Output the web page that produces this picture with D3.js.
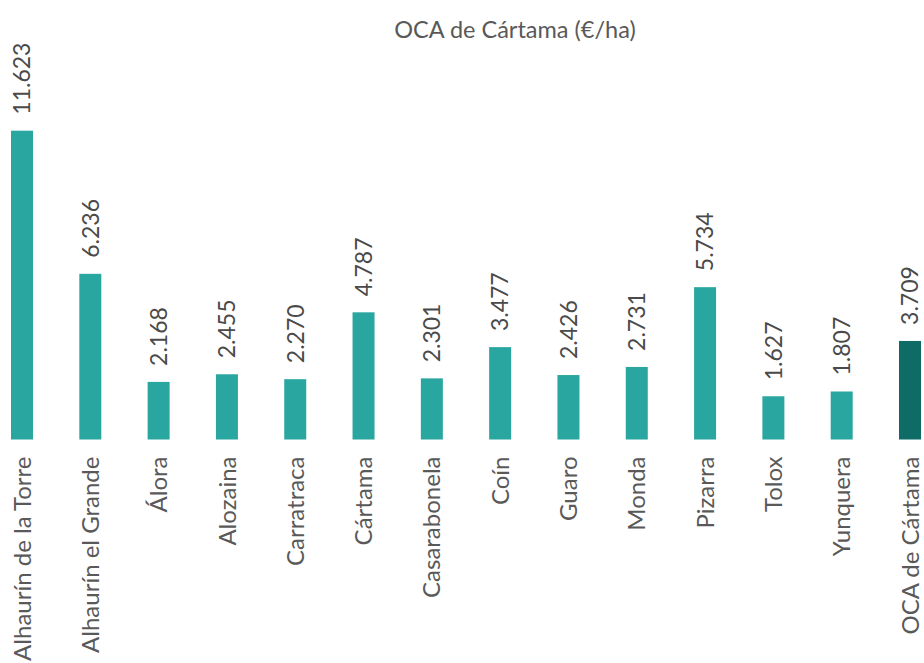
<!DOCTYPE html>
<html>
<head>
<meta charset="utf-8">
<script src="https://cdn.jsdelivr.net/npm/d3@7"></script>
<style>
  html, body { margin: 0; padding: 0; background: #fff; }
  svg { display: block; }
</style>
</head>
<body>
<div id="chart"></div>
<script>
// datos OCA de Cártama (€/ha)
const municipios = ["Alhaurín de la Torre", "Alhaurín el Grande", "Álora", "Alozaina", "Carratraca",
  "Cártama", "Casarabonela", "Coín", "Guaro", "Monda", "Pizarra", "Tolox", "Yunquera", "OCA de Cártama"];
const valores = [11623, 6236, 2168, 2455, 2270, 4787, 2301, 3477, 2426, 2731, 5734, 1627, 1807, 3709];
const titulo = "OCA de Cártama (€/ha)";

const width = 924, height = 663;
const baseY = 439.5;
const fuente = "Lato, 'Open Sans', sans-serif";

const data = municipios.map((m, i) => ({ nombre: m, valor: valores[i] }));

const es = d3.formatLocale({ decimal: ",", thousands: ".", grouping: [3], currency: ["", " €"] });
const fmt = es.format(",d");

const svg = d3.select("#chart")
  .append("svg")
  .attr("width", width)
  .attr("height", height);

const x = d3.scalePoint()
  .domain(municipios)
  .range([22, 910]);

const y = d3.scaleLinear()
  .domain([0, 11623])
  .range([baseY, 130.7]);

const barW = 22;

// titulo
svg.append("text")
  .attr("x", 515)
  .attr("y", 38)
  .attr("text-anchor", "middle")
  .attr("font-family", fuente)
  .attr("font-size", "23.5px")
  .attr("fill", "#595959")
  .text(titulo);

// barras
svg.selectAll(".bar")
  .data(data)
  .enter()
  .append("rect")
  .attr("class", "bar")
  .attr("x", d => x(d.nombre) - barW / 2)
  .attr("y", d => y(d.valor))
  .attr("width", barW)
  .attr("height", d => baseY - y(d.valor))
  .attr("fill", (d, i) => i === data.length - 1 ? "#0F6B66" : "#2AA6A0");

// etiquetas de valor
svg.selectAll(".valor")
  .data(data)
  .enter()
  .append("text")
  .attr("class", "valor")
  .attr("transform", d => `translate(${x(d.nombre)},${y(d.valor) - 16}) rotate(-90)`)
  .attr("dy", "0.36em")
  .attr("text-anchor", "start")
  .attr("font-family", fuente)
  .attr("font-size", "23px")
  .attr("fill", "#4a4a4a")
  .text(d => fmt(d.valor));

// etiquetas de categoria
svg.selectAll(".cat")
  .data(data)
  .enter()
  .append("text")
  .attr("class", "cat")
  .attr("transform", d => `translate(${x(d.nombre)},${baseY + 17}) rotate(-90)`)
  .attr("dy", "0.36em")
  .attr("text-anchor", "end")
  .attr("font-family", fuente)
  .attr("font-size", "24px")
  .attr("fill", "#595959")
  .text(d => d.nombre);
</script>
</body>
</html>
